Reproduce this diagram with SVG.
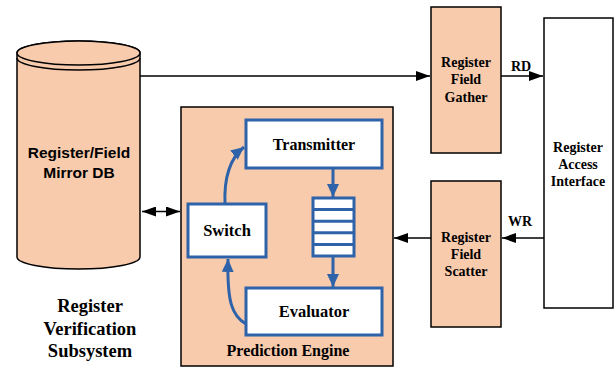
<svg xmlns="http://www.w3.org/2000/svg" width="614" height="367" viewBox="0 0 614 367">
<defs>
<style>
.peach{fill:#F8CBAD;stroke:#000;stroke-width:1.5}
.white{fill:#fff;stroke:#000;stroke-width:1.5}
.blue{fill:#fff;stroke:#2E63AA;stroke-width:3}
.ser{font-family:"Liberation Serif","Times New Roman",serif;font-weight:bold;fill:#000;text-anchor:middle}
.san{font-family:"Liberation Sans",Arial,sans-serif;font-weight:bold;fill:#000;text-anchor:middle}
.ln{fill:none;stroke:#000;stroke-width:1.5}
.bl{fill:none;stroke:#2E63AA;stroke-width:3}
</style>
<marker id="ahk" viewBox="0 0 10 10" refX="10" refY="5" markerWidth="14" markerHeight="10" markerUnits="userSpaceOnUse" orient="auto-start-reverse" preserveAspectRatio="none">
<path d="M0,0 L10,5 L0,10 z" fill="#000"/>
</marker>
<marker id="ahb" viewBox="0 0 10 10" refX="10" refY="5" markerWidth="13" markerHeight="12" markerUnits="userSpaceOnUse" orient="auto" preserveAspectRatio="none">
<path d="M0,0 L10,5 L0,10 z" fill="#2E63AA"/>
</marker>
</defs>

<g id="mirror-db">
<path class="peach" d="M17,53 L17,257 A61.5,12 0 0 0 140,257 L140,53 A61.5,12 0 0 0 17,53 Z"/>
<ellipse class="peach" cx="78.5" cy="53" rx="61.5" ry="12"/>
<path class="ln" d="M17,58 A61.5,12 0 0 0 140,58"/>
<text class="san" font-size="15.5" x="79" y="158">Register/Field</text>
<text class="san" font-size="15.5" x="79" y="178">Mirror DB</text>
</g>

<g id="subsystem-label">
<text class="ser" font-size="18.5" x="90" y="312">Register</text>
<text class="ser" font-size="18.5" x="90" y="335">Verification</text>
<text class="ser" font-size="18.5" x="90" y="357">Subsystem</text>
</g>

<g id="prediction-engine">
<rect class="peach" x="181" y="107" width="212" height="259"/>
<text class="ser" font-size="16" x="288" y="356">Prediction Engine</text>
</g>

<g id="transmitter">
<rect class="blue" x="246" y="120" width="136" height="48"/>
<text class="ser" font-size="16" x="314" y="150">Transmitter</text>
</g>

<g id="switch">
<rect class="blue" x="188" y="204" width="78" height="53"/>
<text class="ser" font-size="16.5" x="227" y="236">Switch</text>
</g>

<g id="evaluator">
<rect class="blue" x="246" y="288" width="136" height="47"/>
<text class="ser" font-size="16.5" x="314" y="317">Evaluator</text>
</g>

<g id="queue">
<rect class="blue" x="313" y="198" width="41" height="58"/>
<line class="bl" x1="313" y1="209.6" x2="354" y2="209.6" stroke-width="2.5"/>
<line class="bl" x1="313" y1="221.2" x2="354" y2="221.2" stroke-width="2.5"/>
<line class="bl" x1="313" y1="232.8" x2="354" y2="232.8" stroke-width="2.5"/>
<line class="bl" x1="313" y1="244.4" x2="354" y2="244.4" stroke-width="2.5"/>
</g>

<g id="gather">
<rect class="peach" x="431" y="7" width="70" height="146"/>
<text class="ser" font-size="14" x="466" y="67">Register</text>
<text class="ser" font-size="14" x="466" y="84">Field</text>
<text class="ser" font-size="14" x="466" y="102">Gather</text>
</g>

<g id="scatter">
<rect class="peach" x="431" y="181" width="70" height="146"/>
<text class="ser" font-size="14" x="466" y="242">Register</text>
<text class="ser" font-size="14" x="466" y="259">Field</text>
<text class="ser" font-size="14" x="466" y="276">Scatter</text>
</g>

<g id="access-interface">
<rect class="white" x="544" y="18" width="69" height="290"/>
<text class="ser" font-size="14" x="578" y="152">Register</text>
<text class="ser" font-size="14" x="578" y="169">Access</text>
<text class="ser" font-size="14" x="578" y="186">Interface</text>
</g>

<g id="connectors">
<path class="ln" d="M140,76 L430,76" marker-end="url(#ahk)"/>
<path class="ln" d="M501,76 L543,76" marker-end="url(#ahk)"/>
<text class="ser" font-size="14" x="521" y="71">RD</text>
<path class="ln" d="M544,238 L502,238" marker-end="url(#ahk)"/>
<text class="ser" font-size="14" x="520" y="226">WR</text>
<path class="ln" d="M431,238 L394,238" marker-end="url(#ahk)"/>
<path class="ln" d="M142,211.5 L180,211.5" marker-start="url(#ahk)" marker-end="url(#ahk)"/>
<path class="bl" d="M333,168 L333,197" marker-end="url(#ahb)"/>
<path class="bl" d="M333,256 L333,287" marker-end="url(#ahb)"/>
<path class="bl" d="M225,204 C224,180 228,160 244,147" marker-end="url(#ahb)"/>
<path class="bl" d="M246,324 C232,316 227,302 228,259" marker-end="url(#ahb)"/>
</g>
</svg>
